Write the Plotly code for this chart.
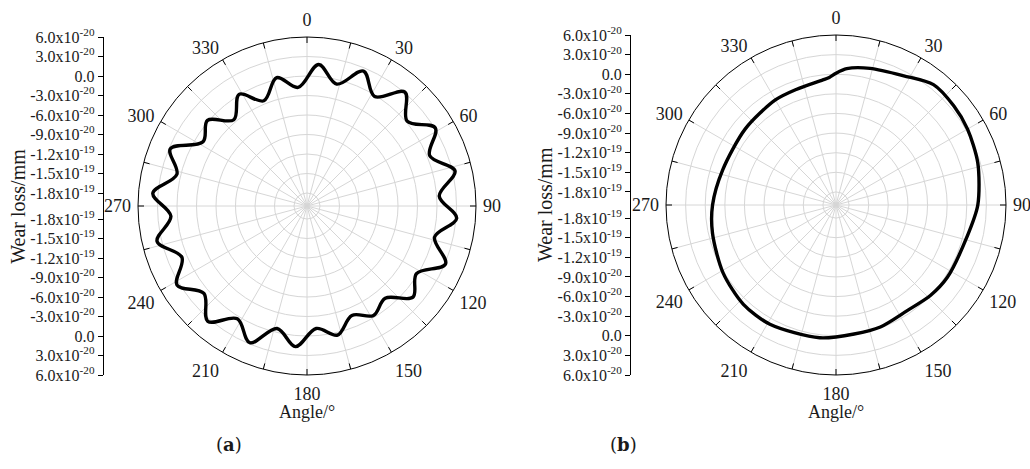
import plotly.graph_objects as go

# ---------------- data ----------------
angle_ticks = list(range(0, 360, 15))
angle_labels = ["0", "", "30", "", "60", "", "90", "", "120", "", "150", "",
                "180", "", "210", "", "240", "", "270", "", "300", "", "330", ""]

radial_ticks = [6.0e-20, 3.0e-20, 0.0, -3.0e-20, -6.0e-20, -9.0e-20,
                -1.2e-19, -1.5e-19, -1.8e-19]
radial_labels = ["6.0x10<sup>-20</sup>", "3.0x10<sup>-20</sup>", "0.0",
                 "-3.0x10<sup>-20</sup>", "-6.0x10<sup>-20</sup>", "-9.0x10<sup>-20</sup>",
                 "-1.2x10<sup>-19</sup>", "-1.5x10<sup>-19</sup>", "-1.8x10<sup>-19</sup>"]
r_min = -2.0e-19
r_max = 6.0e-20

# (a) wavy wear profile: alternating crest / trough points
theta_a = [4.7, 13.7, 22.7, 31.7, 40.7, 49.7, 58.7, 67.7, 76.7, 85.7,
           94.7, 103.7, 112.7, 121.7, 130.7, 139.7, 148.7, 157.7, 166.7, 175.7,
           184.7, 193.7, 202.7, 211.7, 220.7, 229.7, 238.7, 247.7, 256.7, 265.7,
           274.7, 283.7, 292.7, 301.7, 310.7, 319.7, 328.7, 337.7, 346.7, 355.7, 364.7]
r_a = [1.85e-20, -7.0e-21, 2.5e-20, -2.0e-21, 3.1e-20, 2.0e-21, 3.1e-20, 4.0e-21, 3.4e-20, 4.0e-21,
       3.1e-20, 2.0e-21, 3.1e-20, -2.0e-21, 1.5e-20, -1.4e-20, -3.0e-21, -1.8e-20, 4.0e-21, -1.1e-20,
       1.7e-20, -6.0e-21, 2.8e-20, 4.0e-21, 3.4e-20, 8.0e-21, 3.4e-20, 8.0e-21, 3.7e-20, 1.0e-20,
       3.8e-20, 6.0e-21, 2.8e-20, -1.2e-20, 2.0e-21, -2.6e-20, 1.0e-21, -2.5e-20, 3.0e-21, -1.7e-20, 1.85e-20]

# (b) smooth wear profile
theta_b = [0, 4.5, 14, 27.7, 39, 50, 60, 73.5, 90, 103.6, 123, 133.8, 146, 160, 172,
           187, 209, 223, 239, 257, 270, 287, 310, 330, 341, 354, 357, 360]
r_b = [1.5e-21, 9.2e-21, 1.54e-20, 2.31e-20, 3.69e-20, 3.54e-20, 3.23e-20, 2.62e-20, 1.69e-20,
       6.2e-21, 3.1e-21, 0.0, -5.2e-21, -1.5e-21, -8.0e-22, 4.6e-21, 8.5e-21, 7.7e-21, 1.5e-21,
       -6.2e-21, -1.12e-20, -1.85e-20, -1.89e-20, -1.45e-20, -1.31e-20, -7.7e-21, -4.6e-21, 1.5e-21]

# ---------------- layout helpers ----------------
W, H = 1030, 469
FONT = "Liberation Serif, Times New Roman, serif"
TXT = "#1a1a1a"

def px_x(x):
    return x / W

def px_y(y):
    return 1 - y / H

panels = [
    dict(cx=307, cy=206, R=169, ax=102.7, label="a", lx=229),
    dict(cx=836, cy=205, R=170, ax=630, label="b", lx=623),
]

fig = go.Figure()
curves = [(r_a, theta_a, 1.0), (r_b, theta_b, 0.8)]
span = r_max - r_min

for i, p in enumerate(panels):
    sub = "polar" if i == 0 else "polar2"
    rr, tt, sm = curves[i]
    fig.add_trace(go.Scatterpolar(r=rr, theta=tt, mode="lines", subplot=sub,
                                  line=dict(color="black", width=3.4, shape="spline", smoothing=sm),
                                  showlegend=False, hoverinfo="skip"))
    # inward tick marks on the outer ring
    inner = r_max - 6.0 / p["R"] * span
    tr, tth = [], []
    for a in angle_ticks:
        tr += [inner, r_max, None]
        tth += [a, a, None]
    fig.add_trace(go.Scatterpolar(r=tr, theta=tth, mode="lines", subplot=sub,
                                  line=dict(color="black", width=1),
                                  showlegend=False, hoverinfo="skip"))

tickvals_y = [t - r_min for t in radial_ticks] + [-(t - r_min) for t in radial_ticks]
ticktext_y = radial_labels + radial_labels

layout = dict(
    width=W, height=H, margin=dict(l=0, r=0, t=0, b=0, autoexpand=False),
    paper_bgcolor="white", plot_bgcolor="white",
    font=dict(family=FONT, color=TXT),
    annotations=[],
)

for i, p in enumerate(panels):
    suffix = "" if i == 0 else str(i + 1)
    dom_x = [px_x(p["cx"] - p["R"]), px_x(p["cx"] + p["R"])]
    dom_y = [px_y(p["cy"] + p["R"]), px_y(p["cy"] - p["R"])]
    layout["polar" + suffix] = dict(
        domain=dict(x=dom_x, y=dom_y),
        bgcolor="white",
        angularaxis=dict(rotation=90, direction="clockwise",
                         tickmode="array", tickvals=angle_ticks, ticktext=angle_labels,
                         ticks="outside", ticklen=3, tickcolor="rgba(0,0,0,0)",
                         showline=True, linecolor="black", linewidth=1,
                         showgrid=True, gridcolor="#d6d6d6", gridwidth=1,
                         tickfont=dict(family=FONT, size=18, color=TXT)),
        radialaxis=dict(range=[r_min, r_max], tickmode="array", tickvals=radial_ticks,
                        showticklabels=False, ticks="", showline=False,
                        showgrid=True, gridcolor="#d6d6d6", gridwidth=1),
    )
    layout["xaxis" + suffix] = dict(domain=[dom_x[0], dom_x[0] + 0.01], visible=False,
                                    range=[0, 1], anchor="y" + suffix)
    layout["yaxis" + suffix] = dict(domain=dom_y, anchor="free", position=px_x(p["ax"]),
                                    range=[-span, span], tickmode="array",
                                    tickvals=tickvals_y, ticktext=ticktext_y,
                                    showline=True, linecolor="black", linewidth=1,
                                    ticks="outside", ticklen=5, tickcolor="black",
                                    showgrid=False, zeroline=False, automargin=False,
                                    tickfont=dict(family=FONT, size=16, color=TXT))
    fig.add_trace(go.Scatter(x=[None], y=[None], xaxis="x" + suffix, yaxis="y" + suffix,
                             mode="markers", showlegend=False, hoverinfo="skip"))
    layout["annotations"] += [
        dict(text="Wear loss/mm", textangle=-90, x=px_x(p["ax"] - 85), y=px_y(p["cy"]),
             xref="paper", yref="paper", showarrow=False, xanchor="center", yanchor="middle",
             font=dict(family=FONT, size=20, color=TXT)),
        dict(text="Angle/°", x=px_x(p["cx"]), y=px_y(412), xref="paper", yref="paper",
             showarrow=False, xanchor="center", yanchor="middle",
             font=dict(family=FONT, size=18, color=TXT)),
        dict(text="(<b>" + p["label"] + "</b>)", x=px_x(p["lx"]), y=px_y(444), xref="paper",
             yref="paper", showarrow=False, xanchor="center", yanchor="middle",
             font=dict(family="DejaVu Serif, serif", size=18, color=TXT)),
    ]

fig.update_layout(**layout)
fig.write_html("out.html", config={"displayModeBar": False, "staticPlot": True},
               post_script="document.body.style.margin='0px';document.body.style.overflow='hidden';")
